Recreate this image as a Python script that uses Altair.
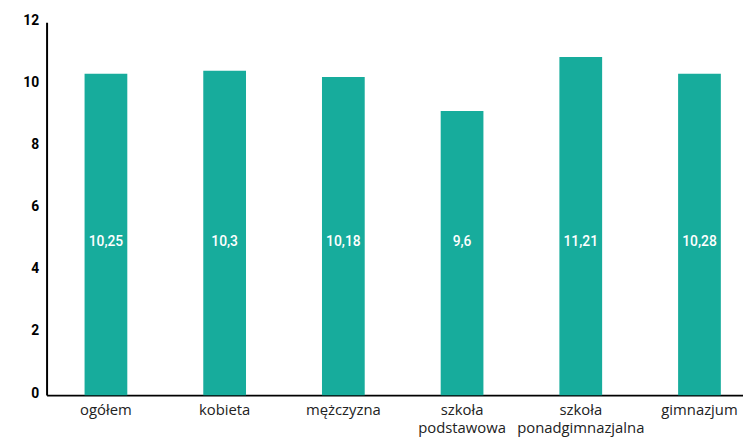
import altair as alt
import pandas as pd

categories = ["ogółem", "kobieta", "mężczyzna", "szkoła podstawowa", "szkoła ponadgimnazjalna", "gimnazjum"]
bar_values = [10.34, 10.44, 10.24, 9.14, 10.88, 10.34]
label_texts = ["10,25", "10,3", "10,18", "9,6", "11,21", "10,28"]
y_ticks = [0, 2, 4, 6, 8, 10, 12]

df = pd.DataFrame({"cat": categories, "val": bar_values, "lab": label_texts})

FONT = "Roboto"
XFONT = "Open Sans"
COLOR = "#17ac9c"

x = alt.X(
    "cat:N",
    sort=categories,
    scale=alt.Scale(range=[0, 720], paddingInner=0.64, paddingOuter=0.32),
    axis=alt.Axis(
        title=None,
        labelAngle=0,
        labelExpr="split(datum.label, ' ')",
        labelFont=XFONT,
        labelFontSize=15,
        labelColor="#222222",
        labelLineHeight=18,
        labelPadding=8,
        ticks=False,
        domainColor="#000000",
        domainWidth=2,
        labelBaseline="top",
    ),
)

bars = alt.Chart(df).mark_bar(color=COLOR).encode(
    x=x,
    y=alt.Y(
        "val:Q",
        scale=alt.Scale(domain=[0, 12], nice=False),
        axis=alt.Axis(
            title=None,
            values=y_ticks,
            grid=False,
            ticks=False,
            domainColor="#000000",
            domainWidth=2,
            labelFont=FONT,
            labelFontSize=14,
            labelFontWeight="bold",
            labelColor="#000000",
            labelPadding=8,
            labelOffset=-2,
        ),
    ),
)

texts = alt.Chart(df).mark_text(
    color="white", font=FONT, fontSize=14, fontWeight=500, baseline="middle"
).encode(
    x=alt.X("cat:N", sort=categories),
    y=alt.datum(4.94),
    text="lab:N",
)

chart = (
    alt.layer(bars, texts)
    .properties(
        width=704,
        height=377,
        autosize=alt.AutoSizeParams(type="none"),
        padding={"left": 39, "top": 12, "right": 0, "bottom": 41},
    )
    .configure_view(stroke=None)
)

chart.save("out.html", embed_options={"renderer": "svg", "actions": False})
